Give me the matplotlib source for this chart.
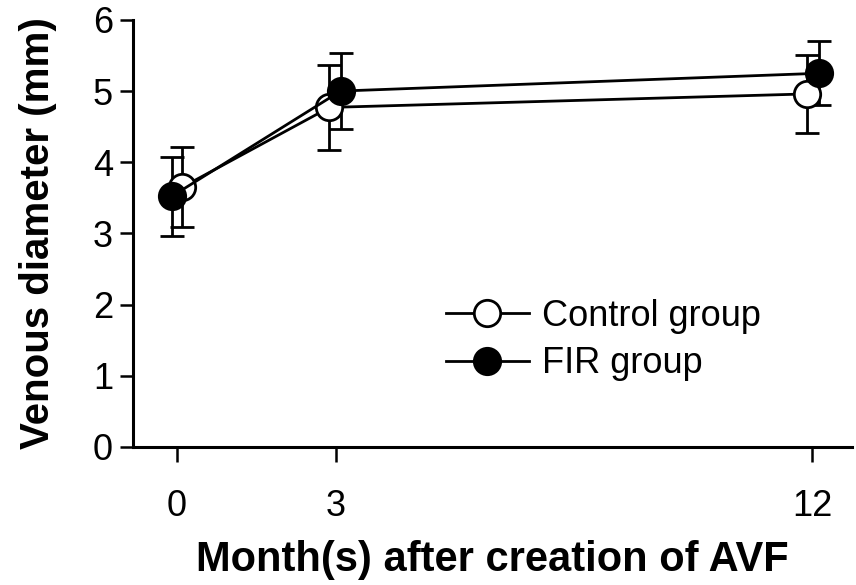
import numpy as np
import matplotlib.pyplot as plt

plt.rcParams['font.family'] = ['Liberation Sans', 'DejaVu Sans']

# DATOS
months = np.array([0, 3, 12])
control_mean = np.array([3.65, 4.77, 4.96])
control_sd = np.array([0.56, 0.60, 0.55])
fir_mean = np.array([3.52, 5.00, 5.25])
fir_sd = np.array([0.55, 0.54, 0.45])

# small horizontal offsets so the two groups do not overlap
control_x = months + np.array([0.10, -0.12, -0.10])
fir_x = months + np.array([-0.10, 0.09, 0.13])

fig = plt.figure(figsize=(8.56, 5.85), dpi=100)
ax = fig.add_axes([0.1554, 0.236, 0.84, 0.73])

# Barras de error
ax.errorbar(control_x, control_mean, yerr=control_sd, fmt='none',
            ecolor='black', elinewidth=2, capsize=8.5, capthick=2, zorder=2)
ax.errorbar(fir_x, fir_mean, yerr=fir_sd, fmt='none',
            ecolor='black', elinewidth=2, capsize=8.5, capthick=2, zorder=2)

# Lineas y marcadores
ax.plot(control_x, control_mean, '-o', color='black', linewidth=2,
        markersize=19, markerfacecolor='white', markeredgecolor='black',
        markeredgewidth=2, label='Control group', zorder=3)
ax.plot(fir_x, fir_mean, '-o', color='black', linewidth=2,
        markersize=19, markerfacecolor='black', markeredgecolor='black',
        markeredgewidth=2, label='FIR group', zorder=4)

ax.set_xlim(-0.83, 12.75)
ax.set_ylim(0, 6)
ax.set_xticks(months)
ax.set_yticks(range(0, 7))

for s in ['top', 'right']:
    ax.spines[s].set_visible(False)
for s in ['left', 'bottom']:
    ax.spines[s].set_linewidth(2.2)

ax.tick_params(axis='both', direction='out', width=1.8, labelsize=26)
ax.tick_params(axis='y', length=9.5, pad=5)
ax.tick_params(axis='x', length=11, pad=19)

ax.set_xlabel('Month(s) after creation of AVF', fontsize=30, fontweight='bold', labelpad=12)
ax.set_ylabel('Venous diameter (mm)', fontsize=29, fontweight='bold', labelpad=26)

ax.legend(loc='center left', bbox_to_anchor=(0.39, 0.25), frameon=False,
          fontsize=26, handlelength=2.3, handletextpad=0.35, labelspacing=0.35)

fig.savefig('out.png', dpi=100)
